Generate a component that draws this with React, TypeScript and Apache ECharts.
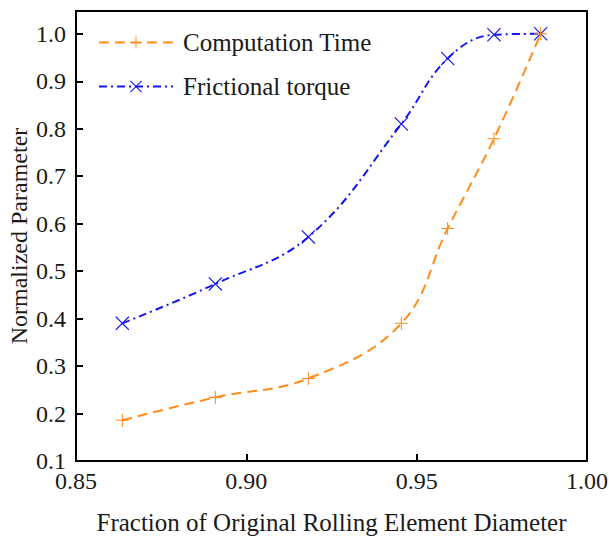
import React, { useEffect, useRef } from "react";
import * as echarts from "echarts";

const xValues = [0.8636, 0.8909, 0.9182, 0.9455, 0.9591, 0.9727, 0.9864];
const computationTime = [0.186, 0.234, 0.274, 0.39, 0.59, 0.779, 1.0];
const frictionalTorque = [0.39, 0.473, 0.572, 0.81, 0.948, 0.998, 1.0];
const seriesNames = ["Computation Time", "Frictional torque"];

const PLUS =
  "path://M-0.08,-1 L0.08,-1 L0.08,-0.08 L1,-0.08 L1,0.08 L0.08,0.08 L0.08,1 L-0.08,1 L-0.08,0.08 L-1,0.08 L-1,-0.08 L-0.08,-0.08 Z";
const CROSS =
  "path://M-1,-0.88 L-0.88,-1 L0,-0.12 L0.88,-1 L1,-0.88 L0.12,0 L1,0.88 L0.88,1 L0,0.12 L-0.88,1 L-1,0.88 L-0.12,0 Z";

const FONT = "'Liberation Serif', 'Times New Roman', serif";
const TEXT = "#1a1a1a";

export default function App() {
  const ref = useRef<HTMLDivElement>(null);
  useEffect(() => {
    if (!ref.current) return;
    const chart = echarts.init(ref.current, null, { renderer: "svg" });
    const pairs = (ys: number[]) => xValues.map((x, i) => [x, ys[i]]);
    chart.setOption({
      animation: false,
      backgroundColor: "#fff",
      textStyle: { fontFamily: FONT },
      grid: {
        left: 76,
        right: 22,
        top: 11,
        bottom: 80,
        outerBoundsMode: "none",
        containLabel: false,
        show: true,
        borderColor: "#000",
        borderWidth: 2,
        backgroundColor: "transparent",
      },
      legend: {
        orient: "vertical",
        left: 98,
        top: 30,
        padding: 0,
        itemWidth: 74,
        itemHeight: 15,
        itemGap: 19,
        textStyle: { fontFamily: FONT, fontSize: 25, color: TEXT, padding: [0, 0, 0, 5] },
        data: seriesNames,
      },
      xAxis: {
        type: "value",
        min: 0.85,
        max: 1.0,
        interval: 0.05,
        name: "Fraction of Original Rolling Element Diameter",
        nameLocation: "middle",
        nameGap: 49,
        nameMoveOverlap: false,
        nameTextStyle: { fontFamily: FONT, fontSize: 25, color: TEXT },
        axisLine: { show: true, lineStyle: { color: "#000", width: 2 } },
        axisTick: { show: true, inside: true, length: 7, lineStyle: { color: "#000", width: 2 } },
        axisLabel: {
          fontFamily: FONT,
          fontSize: 24,
          color: TEXT,
          margin: 8,
          formatter: (v: number) => v.toFixed(2),
        },
        splitLine: { show: false },
      },
      yAxis: {
        type: "value",
        min: 0.1,
        max: 1.048,
        interval: 0.1,
        name: "Normalized Parameter",
        nameLocation: "middle",
        nameGap: 45,
        nameMoveOverlap: false,
        nameTextStyle: { fontFamily: FONT, fontSize: 24, color: TEXT },
        axisLine: { show: true, lineStyle: { color: "#000", width: 2 } },
        axisTick: { show: true, inside: true, length: 7, lineStyle: { color: "#000", width: 2 } },
        axisLabel: {
          fontFamily: FONT,
          fontSize: 24,
          color: TEXT,
          margin: 10,
          showMaxLabel: false,
          formatter: (v: number) => v.toFixed(1),
        },
        splitLine: { show: false },
      },
      series: [
        {
          name: seriesNames[0],
          type: "line",
          data: pairs(computationTime),
          smooth: 0.4,
          symbol: PLUS,
          symbolSize: 13,
          itemStyle: { color: "#FF8C1A" },
          lineStyle: { color: "#FF8C1A", width: 2, type: [10, 6] },
          z: 3,
        },
        {
          name: seriesNames[1],
          type: "line",
          data: pairs(frictionalTorque),
          smooth: 0.4,
          symbol: CROSS,
          symbolSize: 14,
          itemStyle: { color: "#1616F0" },
          lineStyle: { color: "#1616F0", width: 2, type: [8, 4, 2, 4] },
          z: 2,
        },
      ],
    });
    return () => chart.dispose();
  }, []);
  return (
    <div
      ref={ref}
      style={{ position: "fixed", left: 0, top: 0, width: 609, height: 541, background: "#fff" }}
    />
  );
}
